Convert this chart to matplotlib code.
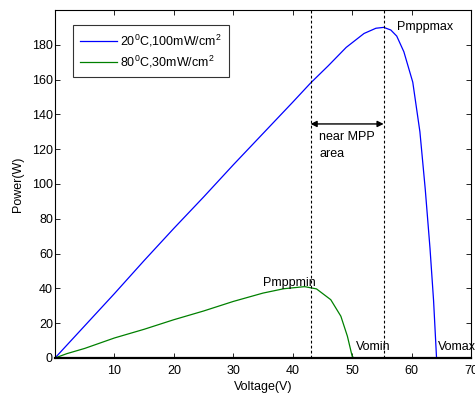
import matplotlib
matplotlib.use("Agg")
import matplotlib.pyplot as plt

plt.rcParams['font.family'] = ['Liberation Sans', 'DejaVu Sans']
plt.rcParams['mathtext.default'] = 'regular'

# blue curve: 20 C, 100 mW/cm2
v_hot = [0, 5, 10, 15, 20, 25, 30, 35, 40, 43, 46, 49, 52, 54, 55.3, 56.5,
         57.5, 58.7, 60.2, 61.4, 62.3, 63.1, 63.7, 64.2, 70]
p_hot = [0, 18.5, 37, 56, 74.5, 92.5, 111, 129, 147, 158, 168, 178.5, 186.5,
         189.5, 190, 188.5, 185, 176, 158.5, 130, 97, 63, 33, 0, 0]

# green curve: 80 C, 30 mW/cm2
v_low = [0, 2, 5, 10, 15, 20, 25, 30, 35, 38.5, 42, 44, 46.4, 48.1, 49.2,
         50, 50.3, 70]
p_low = [0, 2.5, 5.5, 11.5, 16.5, 22, 27, 32.5, 37.3, 39.8, 41, 39.7, 33.5,
         24, 12.5, 1, 0, 0]

labels = [r'20$^0$C,100mW/cm$^2$', r'80$^0$C,30mW/cm$^2$']
v_mpp_lo, v_mpp_hi = 43, 55.3

fs = 9

fig = plt.figure(figsize=(4.75, 3.99), dpi=100)
ax = fig.add_axes([0.1158, 0.1028, 0.8758, 0.8722])

ax.plot(v_hot, p_hot, color=(0, 0, 1), lw=0.9, label=labels[0])
ax.plot(v_low, p_low, color=(0, 0.5, 0), lw=0.9, label=labels[1])

for v in (v_mpp_lo, v_mpp_hi):
    ax.axvline(v, color='black', lw=0.8, ls=(0, (2.5, 2)))

ax.annotate('', xy=(v_mpp_lo, 134.5), xytext=(v_mpp_hi, 134.5),
            arrowprops=dict(arrowstyle='<|-|>', color='black', lw=1,
                            mutation_scale=9, shrinkA=0, shrinkB=0))
ax.text(44.5, 126.8, 'near MPP', fontsize=fs, va='center', ha='left')
ax.text(44.5, 117.2, 'area', fontsize=fs, va='center', ha='left')

ax.text(57.5, 190, 'Pmppmax', fontsize=fs, va='center', ha='left')
ax.text(35, 43.1, 'Pmppmin', fontsize=fs, va='center', ha='left')
ax.text(50.6, 6.5, 'Vomin', fontsize=fs, va='center', ha='left')
ax.text(64.4, 6.5, 'Vomax', fontsize=fs, va='center', ha='left', clip_on=False)

ax.set_xlim(0, 70)
ax.set_ylim(0, 200)
ax.set_xticks(range(10, 71, 10))
ax.set_yticks(range(0, 181, 20))
ax.tick_params(direction='in', top=True, right=True, labelsize=fs,
               length=3.5, width=0.6)
ax.tick_params(axis='x', pad=5)
ax.tick_params(axis='y', pad=1.5)
for s in ax.spines.values():
    s.set_linewidth(0.8)
ax.spines['bottom'].set_linewidth(1.6)

ax.set_xlabel('Voltage(V)', fontsize=fs, labelpad=3)
ax.set_ylabel('Power(W)', fontsize=fs, labelpad=6)

leg = ax.legend(loc='upper left', bbox_to_anchor=(0.043, 0.957), fontsize=9,
                frameon=True, fancybox=False, handlelength=2.9,
                borderpad=0.6, labelspacing=0.4, handletextpad=0.3,
                borderaxespad=0)
leg.get_frame().set_edgecolor('black')
leg.get_frame().set_linewidth(0.8)

fig.savefig('out.png', dpi=100)
